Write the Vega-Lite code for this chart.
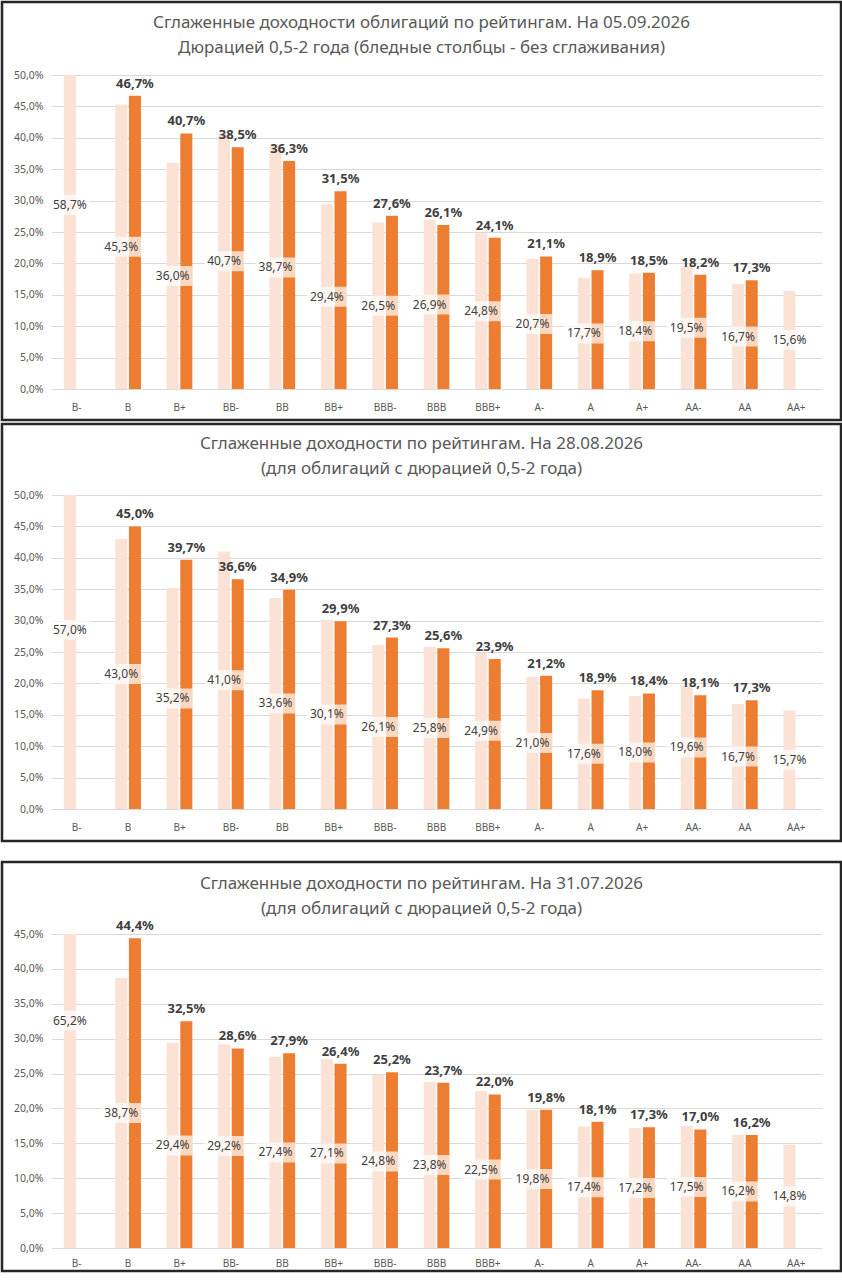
{
  "$schema": "https://vega.github.io/schema/vega-lite/v6.json",
  "description": "Smoothed bond yields by rating, three dates",
  "padding": 0,
  "data": {
    "values": [
      {"panel": 1, "rating": "B-", "kind": "raw", "value": 0.587},
      {"panel": 1, "rating": "B", "kind": "raw", "value": 0.453},
      {"panel": 1, "rating": "B+", "kind": "raw", "value": 0.360},
      {"panel": 1, "rating": "BB-", "kind": "raw", "value": 0.407},
      {"panel": 1, "rating": "BB", "kind": "raw", "value": 0.387},
      {"panel": 1, "rating": "BB+", "kind": "raw", "value": 0.294},
      {"panel": 1, "rating": "BBB-", "kind": "raw", "value": 0.265},
      {"panel": 1, "rating": "BBB", "kind": "raw", "value": 0.269},
      {"panel": 1, "rating": "BBB+", "kind": "raw", "value": 0.248},
      {"panel": 1, "rating": "A-", "kind": "raw", "value": 0.207},
      {"panel": 1, "rating": "A", "kind": "raw", "value": 0.177},
      {"panel": 1, "rating": "A+", "kind": "raw", "value": 0.184},
      {"panel": 1, "rating": "AA-", "kind": "raw", "value": 0.195},
      {"panel": 1, "rating": "AA", "kind": "raw", "value": 0.167},
      {"panel": 1, "rating": "AA+", "kind": "raw", "value": 0.156},
      {"panel": 1, "rating": "B", "kind": "smooth", "value": 0.467},
      {"panel": 1, "rating": "B+", "kind": "smooth", "value": 0.407},
      {"panel": 1, "rating": "BB-", "kind": "smooth", "value": 0.385},
      {"panel": 1, "rating": "BB", "kind": "smooth", "value": 0.363},
      {"panel": 1, "rating": "BB+", "kind": "smooth", "value": 0.315},
      {"panel": 1, "rating": "BBB-", "kind": "smooth", "value": 0.276},
      {"panel": 1, "rating": "BBB", "kind": "smooth", "value": 0.261},
      {"panel": 1, "rating": "BBB+", "kind": "smooth", "value": 0.241},
      {"panel": 1, "rating": "A-", "kind": "smooth", "value": 0.211},
      {"panel": 1, "rating": "A", "kind": "smooth", "value": 0.189},
      {"panel": 1, "rating": "A+", "kind": "smooth", "value": 0.185},
      {"panel": 1, "rating": "AA-", "kind": "smooth", "value": 0.182},
      {"panel": 1, "rating": "AA", "kind": "smooth", "value": 0.173},
      {"panel": 2, "rating": "B-", "kind": "raw", "value": 0.570},
      {"panel": 2, "rating": "B", "kind": "raw", "value": 0.430},
      {"panel": 2, "rating": "B+", "kind": "raw", "value": 0.352},
      {"panel": 2, "rating": "BB-", "kind": "raw", "value": 0.410},
      {"panel": 2, "rating": "BB", "kind": "raw", "value": 0.336},
      {"panel": 2, "rating": "BB+", "kind": "raw", "value": 0.301},
      {"panel": 2, "rating": "BBB-", "kind": "raw", "value": 0.261},
      {"panel": 2, "rating": "BBB", "kind": "raw", "value": 0.258},
      {"panel": 2, "rating": "BBB+", "kind": "raw", "value": 0.249},
      {"panel": 2, "rating": "A-", "kind": "raw", "value": 0.210},
      {"panel": 2, "rating": "A", "kind": "raw", "value": 0.176},
      {"panel": 2, "rating": "A+", "kind": "raw", "value": 0.180},
      {"panel": 2, "rating": "AA-", "kind": "raw", "value": 0.196},
      {"panel": 2, "rating": "AA", "kind": "raw", "value": 0.167},
      {"panel": 2, "rating": "AA+", "kind": "raw", "value": 0.157},
      {"panel": 2, "rating": "B", "kind": "smooth", "value": 0.450},
      {"panel": 2, "rating": "B+", "kind": "smooth", "value": 0.397},
      {"panel": 2, "rating": "BB-", "kind": "smooth", "value": 0.366},
      {"panel": 2, "rating": "BB", "kind": "smooth", "value": 0.349},
      {"panel": 2, "rating": "BB+", "kind": "smooth", "value": 0.299},
      {"panel": 2, "rating": "BBB-", "kind": "smooth", "value": 0.273},
      {"panel": 2, "rating": "BBB", "kind": "smooth", "value": 0.256},
      {"panel": 2, "rating": "BBB+", "kind": "smooth", "value": 0.239},
      {"panel": 2, "rating": "A-", "kind": "smooth", "value": 0.212},
      {"panel": 2, "rating": "A", "kind": "smooth", "value": 0.189},
      {"panel": 2, "rating": "A+", "kind": "smooth", "value": 0.184},
      {"panel": 2, "rating": "AA-", "kind": "smooth", "value": 0.181},
      {"panel": 2, "rating": "AA", "kind": "smooth", "value": 0.173},
      {"panel": 3, "rating": "B-", "kind": "raw", "value": 0.652},
      {"panel": 3, "rating": "B", "kind": "raw", "value": 0.387},
      {"panel": 3, "rating": "B+", "kind": "raw", "value": 0.294},
      {"panel": 3, "rating": "BB-", "kind": "raw", "value": 0.292},
      {"panel": 3, "rating": "BB", "kind": "raw", "value": 0.274},
      {"panel": 3, "rating": "BB+", "kind": "raw", "value": 0.271},
      {"panel": 3, "rating": "BBB-", "kind": "raw", "value": 0.248},
      {"panel": 3, "rating": "BBB", "kind": "raw", "value": 0.238},
      {"panel": 3, "rating": "BBB+", "kind": "raw", "value": 0.225},
      {"panel": 3, "rating": "A-", "kind": "raw", "value": 0.198},
      {"panel": 3, "rating": "A", "kind": "raw", "value": 0.174},
      {"panel": 3, "rating": "A+", "kind": "raw", "value": 0.172},
      {"panel": 3, "rating": "AA-", "kind": "raw", "value": 0.175},
      {"panel": 3, "rating": "AA", "kind": "raw", "value": 0.162},
      {"panel": 3, "rating": "AA+", "kind": "raw", "value": 0.148},
      {"panel": 3, "rating": "B", "kind": "smooth", "value": 0.444},
      {"panel": 3, "rating": "B+", "kind": "smooth", "value": 0.325},
      {"panel": 3, "rating": "BB-", "kind": "smooth", "value": 0.286},
      {"panel": 3, "rating": "BB", "kind": "smooth", "value": 0.279},
      {"panel": 3, "rating": "BB+", "kind": "smooth", "value": 0.264},
      {"panel": 3, "rating": "BBB-", "kind": "smooth", "value": 0.252},
      {"panel": 3, "rating": "BBB", "kind": "smooth", "value": 0.237},
      {"panel": 3, "rating": "BBB+", "kind": "smooth", "value": 0.220},
      {"panel": 3, "rating": "A-", "kind": "smooth", "value": 0.198},
      {"panel": 3, "rating": "A", "kind": "smooth", "value": 0.181},
      {"panel": 3, "rating": "A+", "kind": "smooth", "value": 0.173},
      {"panel": 3, "rating": "AA-", "kind": "smooth", "value": 0.170},
      {"panel": 3, "rating": "AA", "kind": "smooth", "value": 0.162}
    ]
  },
  "spacing": 17,
  "vconcat": [
    {
      "spacing": 0,
      "vconcat": [
        {
          "width": 839,
          "height": 418,
          "title": {"text": "Сглаженные доходности облигаций по рейтингам. На 05.09.2026", "subtitle": "Дюрацией 0,5-2 года (бледные столбцы - без сглаживания)", "offset": -55},
          "transform": [{"filter": "datum.panel == 1"}],
          "encoding": {
            "x": {"field": "rating", "type": "nominal", "sort": ["B-", "B", "B+", "BB-", "BB", "BB+", "BBB-", "BBB", "BBB+", "A-", "A", "A+", "AA-", "AA", "AA+"],
              "scale": {"range": [49, 820], "paddingInner": 0.5, "paddingOuter": 0.25},
              "axis": {"offset": -31, "title": null}},
            "xOffset": {"field": "kind", "type": "nominal", "scale": {"domain": ["raw", "smooth"], "paddingInner": 0.12}}
          },
          "layer": [
            {
              "mark": "bar",
              "encoding": {
                "y": {"field": "value", "type": "quantitative",
                  "scale": {"domain": [0, 0.5], "range": [387, 73], "clamp": true, "nice": false},
                  "axis": {"offset": -48, "title": null, "values": [0, 0.05, 0.1, 0.15, 0.2, 0.25, 0.3, 0.35, 0.4, 0.45, 0.5]}},
                "color": {"field": "kind", "type": "nominal", "scale": {"domain": ["raw", "smooth"], "range": ["#FBE2D5", "#ED7D31"]}, "legend": null}
              }
            },
            {
              "transform": [{"filter": "datum.kind == 'raw'"}],
              "mark": {"type": "point", "shape": "M-1,-0.5H1V0.5H-1Z", "size": 1600, "filled": true, "color": "#ffffff", "opacity": 0.7, "strokeWidth": 0},
              "encoding": {"y": {"field": "value", "type": "quantitative", "scale": {"domain": [0, 1], "range": [387, 73], "nice": false}, "axis": null}}
            },
            {
              "transform": [{"filter": "datum.kind == 'raw'"}],
              "mark": {"type": "text", "fontSize": 12, "color": "#404040"},
              "encoding": {
                "y": {"field": "value", "type": "quantitative", "scale": {"domain": [0, 1], "range": [387, 73], "nice": false}, "axis": null},
                "text": {"field": "value", "type": "quantitative", "format": ".1%"}
              }
            },
            {
              "transform": [{"filter": "datum.kind == 'smooth'"}],
              "mark": {"type": "text", "fontSize": 13, "fontWeight": "bold", "color": "#404040", "baseline": "bottom", "dy": -5},
              "encoding": {
                "y": {"field": "value", "type": "quantitative", "scale": {"domain": [0, 0.5], "range": [387, 73], "nice": false}, "axis": null},
                "text": {"field": "value", "type": "quantitative", "format": ".1%"}
              }
            }
          ],
          "resolve": {"scale": {"y": "independent"}}
        },
        {
          "width": 839,
          "height": 417,
          "title": {"text": "Сглаженные доходности по рейтингам. На 28.08.2026", "subtitle": "(для облигаций с дюрацией 0,5-2 года)", "offset": -54},
          "transform": [{"filter": "datum.panel == 2"}],
          "encoding": {
            "x": {"field": "rating", "type": "nominal", "sort": ["B-", "B", "B+", "BB-", "BB", "BB+", "BBB-", "BBB", "BBB+", "A-", "A", "A+", "AA-", "AA", "AA+"],
              "scale": {"range": [49, 820], "paddingInner": 0.5, "paddingOuter": 0.25},
              "axis": {"offset": -32, "title": null}},
            "xOffset": {"field": "kind", "type": "nominal", "scale": {"domain": ["raw", "smooth"], "paddingInner": 0.12}}
          },
          "layer": [
            {
              "mark": "bar",
              "encoding": {
                "y": {"field": "value", "type": "quantitative",
                  "scale": {"domain": [0, 0.5], "range": [385, 71], "clamp": true, "nice": false},
                  "axis": {"offset": -48, "title": null, "values": [0, 0.05, 0.1, 0.15, 0.2, 0.25, 0.3, 0.35, 0.4, 0.45, 0.5]}},
                "color": {"field": "kind", "type": "nominal", "scale": {"domain": ["raw", "smooth"], "range": ["#FBE2D5", "#ED7D31"]}, "legend": null}
              }
            },
            {
              "transform": [{"filter": "datum.kind == 'raw'"}],
              "mark": {"type": "point", "shape": "M-1,-0.5H1V0.5H-1Z", "size": 1600, "filled": true, "color": "#ffffff", "opacity": 0.7, "strokeWidth": 0},
              "encoding": {"y": {"field": "value", "type": "quantitative", "scale": {"domain": [0, 1], "range": [385, 71], "nice": false}, "axis": null}}
            },
            {
              "transform": [{"filter": "datum.kind == 'raw'"}],
              "mark": {"type": "text", "fontSize": 12, "color": "#404040"},
              "encoding": {
                "y": {"field": "value", "type": "quantitative", "scale": {"domain": [0, 1], "range": [385, 71], "nice": false}, "axis": null},
                "text": {"field": "value", "type": "quantitative", "format": ".1%"}
              }
            },
            {
              "transform": [{"filter": "datum.kind == 'smooth'"}],
              "mark": {"type": "text", "fontSize": 13, "fontWeight": "bold", "color": "#404040", "baseline": "bottom", "dy": -5},
              "encoding": {
                "y": {"field": "value", "type": "quantitative", "scale": {"domain": [0, 0.5], "range": [385, 71], "nice": false}, "axis": null},
                "text": {"field": "value", "type": "quantitative", "format": ".1%"}
              }
            }
          ],
          "resolve": {"scale": {"y": "independent"}}
        }
      ]
    },
    {
      "width": 839,
      "height": 409,
      "title": {"text": "Сглаженные доходности по рейтингам. На 31.07.2026", "subtitle": "(для облигаций с дюрацией 0,5-2 года)", "offset": -56},
      "transform": [{"filter": "datum.panel == 3"}],
      "encoding": {
        "x": {"field": "rating", "type": "nominal", "sort": ["B-", "B", "B+", "BB-", "BB", "BB+", "BBB-", "BBB", "BBB+", "A-", "A", "A+", "AA-", "AA", "AA+"],
          "scale": {"range": [49, 820], "paddingInner": 0.5, "paddingOuter": 0.25},
          "axis": {"offset": -23, "title": null, "labelPadding": 10}},
        "xOffset": {"field": "kind", "type": "nominal", "scale": {"domain": ["raw", "smooth"], "paddingInner": 0.12}}
      },
      "layer": [
        {
          "mark": "bar",
          "encoding": {
            "y": {"field": "value", "type": "quantitative",
              "scale": {"domain": [0, 0.45], "range": [386, 72], "clamp": true, "nice": false},
              "axis": {"offset": -48, "title": null, "values": [0, 0.05, 0.1, 0.15, 0.2, 0.25, 0.3, 0.35, 0.4, 0.45]}},
            "color": {"field": "kind", "type": "nominal", "scale": {"domain": ["raw", "smooth"], "range": ["#FBE2D5", "#ED7D31"]}, "legend": null}
          }
        },
        {
          "transform": [{"filter": "datum.kind == 'raw'"}],
          "mark": {"type": "point", "shape": "M-1,-0.5H1V0.5H-1Z", "size": 1600, "filled": true, "color": "#ffffff", "opacity": 0.7, "strokeWidth": 0},
          "encoding": {"y": {"field": "value", "type": "quantitative", "scale": {"domain": [0, 0.9], "range": [386, 72], "nice": false}, "axis": null}}
        },
        {
          "transform": [{"filter": "datum.kind == 'raw'"}],
          "mark": {"type": "text", "fontSize": 12, "color": "#404040"},
          "encoding": {
            "y": {"field": "value", "type": "quantitative", "scale": {"domain": [0, 0.9], "range": [386, 72], "nice": false}, "axis": null},
            "text": {"field": "value", "type": "quantitative", "format": ".1%"}
          }
        },
        {
          "transform": [{"filter": "datum.kind == 'smooth'"}],
          "mark": {"type": "text", "fontSize": 13, "fontWeight": "bold", "color": "#404040", "baseline": "bottom", "dy": -5},
          "encoding": {
            "y": {"field": "value", "type": "quantitative", "scale": {"domain": [0, 0.45], "range": [386, 72], "nice": false}, "axis": null},
            "text": {"field": "value", "type": "quantitative", "format": ".1%"}
          }
        }
      ],
      "resolve": {"scale": {"y": "independent"}}
    }
  ],
  "config": {
    "font": "Noto Sans",
    "locale": {"number": {"decimal": ",", "thousands": " ", "grouping": [3], "currency": ["", ""]}},
    "view": {"stroke": "#262626", "strokeWidth": 2.5},
    "title": {"fontSize": 17, "fontWeight": "normal", "color": "#595959", "subtitleFontSize": 17, "subtitleColor": "#595959", "subtitlePadding": 8, "anchor": "middle", "frame": "group"},
    "axisY": {"format": ".1%", "grid": true, "gridColor": "#d9d9d9", "domain": false, "ticks": false, "labelPadding": 7, "labelColor": "#595959", "labelFontSize": 10.5},
    "axisX": {"grid": false, "domain": false, "ticks": false, "labelAngle": 0, "labelPadding": 13, "labelColor": "#595959", "labelFontSize": 10}
  }
}
